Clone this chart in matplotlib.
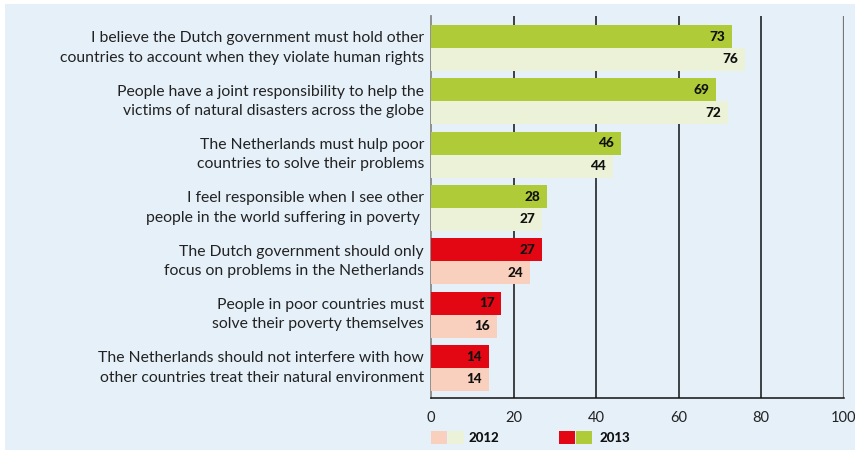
import matplotlib
matplotlib.use("Agg")
import matplotlib.pyplot as plt
from matplotlib.patches import Rectangle

plt.rcParams['font.family'] = ['Lato', 'DejaVu Sans']

statements = [
    "I believe the Dutch government must hold other\ncountries to account when they violate human rights",
    "People have a joint responsibility to help the\nvictims of natural disasters across the globe",
    "The Netherlands must hulp poor\ncountries to solve their problems",
    "I feel responsible when I see other\npeople in the world suffering in poverty ",
    "The Dutch government should only\nfocus on problems in the Netherlands",
    "People in poor countries must\nsolve their poverty themselves",
    "The Netherlands should not interfere with how\nother countries treat their natural environment",
]
values_2013 = [73, 69, 46, 28, 27, 17, 14]
values_2012 = [76, 72, 44, 27, 24, 16, 14]
agrees = [True, True, True, True, False, False, False]
x_ticks = [0, 20, 40, 60, 80, 100]

GREEN_DARK = "#afcb37"
GREEN_LIGHT = "#ebf2d7"
RED_DARK = "#e30613"
RED_LIGHT = "#f9cfbd"
PANEL = "#e6f0f9"

W, H = 855, 450
fig = plt.figure(figsize=(W / 100, H / 100), dpi=100)
fig.patch.set_facecolor("white")
fig.patches.append(Rectangle((5 / W, 0), 1 - 5 / W, 1 - 4 / H, transform=fig.transFigure,
                             facecolor=PANEL, edgecolor="none", zorder=-10))

x0, x1 = 431, 843.5
y_top, y_bot = 16, 398
ax = fig.add_axes([x0 / W, 1 - y_bot / H, (x1 - x0) / W, (y_bot - y_top) / H])
ax.set_facecolor("none")
ax.set_zorder(5)

n = len(statements)
ax.set_xlim(0, 100)
ax.set_ylim(6.5625, -0.6)

bh = 0.431
for i in range(n):
    dark = GREEN_DARK if agrees[i] else RED_DARK
    light = GREEN_LIGHT if agrees[i] else RED_LIGHT
    ax.barh(i - bh / 2, values_2013[i], height=bh, color=dark, zorder=3)
    ax.barh(i + bh / 2, values_2012[i], height=bh, color=light, zorder=3)
    for v, yy in ((values_2013[i], i - bh / 2), (values_2012[i], i + bh / 2)):
        ax.text(v - 1.6, yy, str(v), ha="right", va="center", fontsize=9.8,
                fontweight="black", color="#111111", zorder=4)
    ax.text(-1.7, i, statements[i], ha="right", va="center", fontsize=11.3,
            color="#222222", linespacing=1.47, clip_on=False)

for t in x_ticks[1:-1]:
    ax.axvline(t, color="#111111", lw=1.1, zorder=1)
ax.axvline(100, color="#777777", lw=1.6, zorder=1)

for s in ("top", "right"):
    ax.spines[s].set_visible(False)
ax.spines["left"].set_color("#888888")
ax.spines["left"].set_linewidth(1.3)
ax.spines["bottom"].set_color("#111111")
ax.spines["bottom"].set_linewidth(1.1)

ax.set_yticks([])
ax.set_xticks(x_ticks)
ax.tick_params(axis="x", length=0, pad=9, labelsize=10.5, labelcolor="#222222")

# legend
def swatch(xp, color):
    fig.patches.append(Rectangle((xp / W, 1 - 444 / H), 16 / W, 13 / H,
                                 transform=fig.transFigure, facecolor=color,
                                 edgecolor="none", zorder=2))

swatch(431, RED_LIGHT)
swatch(448, GREEN_LIGHT)
fig.text(469 / W, 1 - 437.5 / H, "2012", ha="left", va="center", fontsize=9.5,
         fontweight="black", color="#111111")
swatch(559, RED_DARK)
swatch(576, GREEN_DARK)
fig.text(600 / W, 1 - 437.5 / H, "2013", ha="left", va="center", fontsize=9.5,
         fontweight="black", color="#111111")

fig.savefig("out.png", dpi=100, facecolor=fig.get_facecolor())
